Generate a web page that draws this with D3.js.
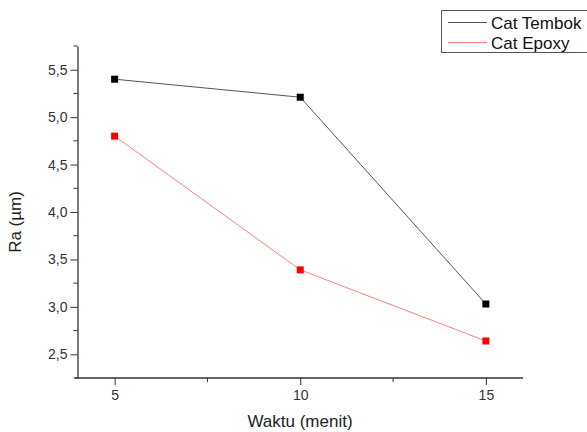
<!DOCTYPE html>
<html><head><meta charset="utf-8">
<script src="https://cdn.jsdelivr.net/npm/d3@7"></script>
<style>body{margin:0;background:#fff}svg{font-family:"Liberation Sans",Arial,sans-serif}</style>
</head><body><svg id="c" width="587" height="432"></svg>
<script>
const xValues = [5, 10, 15];
const catTembok = [5.40, 5.21, 3.03];
const catEpoxy = [4.80, 3.39, 2.64];
const seriesNames = ["Cat Tembok", "Cat Epoxy"];
const yTicks = [2.5, 3.0, 3.5, 4.0, 4.5, 5.0, 5.5];
const xTicks = [5, 10, 15];

const svg = d3.select("#c");
const x = d3.scaleLinear().domain([4, 16]).range([77.5, 523]);
const y = d3.scaleLinear().domain([2.25, 5.75]).range([378, 46]);
const fmt = d => d3.format(".1f")(d).replace(".", ",");

const yMinor = d3.range(2.25, 5.76, 0.25).filter(v => !yTicks.some(t => Math.abs(t - v) < 1e-6));
const xMinor = [7.5, 12.5];

const gy = svg.append("g").attr("transform", "translate(77.5,0)");
gy.call(d3.axisLeft(y).tickValues(yTicks).tickFormat(fmt).tickSize(7).tickPadding(3).tickSizeOuter(0));
gy.selectAll(".minor").data(yMinor).enter().append("line").attr("class","minor")
  .attr("x1", 0).attr("x2", -4).attr("y1", d => y(d)).attr("y2", d => y(d)).attr("stroke", "#333");

const gx = svg.append("g").attr("transform", "translate(0,378)");
gx.call(d3.axisBottom(x).tickValues(xTicks).tickFormat(d3.format("d")).tickSize(7).tickPadding(5).tickSizeOuter(0));
gx.selectAll(".minor").data(xMinor).enter().append("line").attr("class","minor")
  .attr("y1", 0).attr("y2", 4).attr("x1", d => x(d)).attr("x2", d => x(d)).attr("stroke", "#333");

[gx, gy].forEach(g => {
  g.select(".domain").attr("stroke", "#333").attr("stroke-width", 1.3);
  g.selectAll(".tick line").attr("stroke", "#333");
  g.selectAll(".tick text").attr("font-size", 14).attr("fill", "#333").attr("font-family", "Liberation Sans, Arial, sans-serif");
});
gx.select(".domain").attr("d", "M75,0H523");

svg.append("text").attr("x", 300).attr("y", 427).attr("text-anchor", "middle")
  .attr("font-size", 17).attr("fill", "#222").text("Waktu (menit)");
svg.append("text").attr("transform", "translate(21,222) rotate(-90)").attr("text-anchor", "middle")
  .attr("font-size", 17).attr("fill", "#222").text("Ra (µm)");

const series = [
  {name: seriesNames[0], vals: catTembok, line: "#555", mark: "#000"},
  {name: seriesNames[1], vals: catEpoxy, line: "#ff8080", mark: "#ff0000"}
];
const lineGen = d3.line().x((d, i) => x(xValues[i])).y(d => y(d));
series.forEach(s => {
  svg.append("path").attr("d", lineGen(s.vals)).attr("fill", "none").attr("stroke", s.line).attr("stroke-width", 1);
  svg.selectAll(null).data(s.vals).enter().append("rect")
    .attr("x", (d, i) => x(xValues[i]) - 3.5).attr("y", d => y(d) - 3.5)
    .attr("width", 7).attr("height", 7).attr("fill", s.mark);
});

const lg = svg.append("g");
lg.append("rect").attr("x", 441.5).attr("y", 10.5).attr("width", 160).attr("height", 42)
  .attr("fill", "#fff").attr("stroke", "#555");
series.forEach((s, i) => {
  const yy = 22.5 + i * 20;
  lg.append("line").attr("x1", 448).attr("x2", 487).attr("y1", yy).attr("y2", yy).attr("stroke", s.line);
  lg.append("text").attr("x", 491).attr("y", yy + 6).attr("font-size", 17).attr("fill", "#111").text(s.name);
});
</script></body></html>
